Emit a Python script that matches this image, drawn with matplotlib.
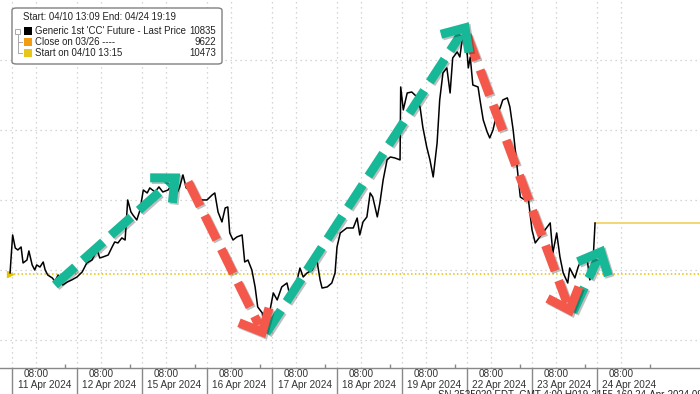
import numpy as np
import matplotlib.pyplot as plt
import matplotlib.patheffects as pe
from matplotlib.patches import FancyBboxPatch, Rectangle
from matplotlib.lines import Line2D
from matplotlib.transforms import blended_transform_factory

plt.rcParams["font.family"] = ["Liberation Sans", "DejaVu Sans"]

# trading-day axis: 0 = start of 11 Apr session, 1 = 12 Apr, ...
day_labels = ["11 Apr 2024", "12 Apr 2024", "15 Apr 2024", "16 Apr 2024", "17 Apr 2024",
              "18 Apr 2024", "19 Apr 2024", "22 Apr 2024", "23 Apr 2024", "24 Apr 2024"]
open_offset = 0.37  # where 08:00 falls inside a day slot

day_pos = [-0.03, 0.01, 0.05, 0.09, 0.14, 0.17, 0.23, 0.26, 0.31, 0.35, 0.38, 0.43, 0.48, 0.51,
           0.55, 0.62, 0.66, 0.71, 0.78, 0.85, 0.92, 1.00, 1.08, 1.15, 1.23, 1.31, 1.35, 1.40,
           1.48, 1.54, 1.58, 1.63, 1.69, 1.74, 1.78, 1.83, 1.86, 1.92, 1.97, 2.02, 2.08, 2.12,
           2.20, 2.26, 2.32, 2.40, 2.48, 2.54, 2.58, 2.63, 2.68, 2.74, 2.85, 2.94, 3.00, 3.08,
           3.12, 3.17, 3.23, 3.28, 3.32, 3.35, 3.40, 3.46, 3.54, 3.58, 3.63, 3.69, 3.74, 3.78,
           3.85, 3.89, 3.97, 4.02, 4.08, 4.15, 4.23, 4.28, 4.35, 4.43, 4.48, 4.54, 4.62, 4.69,
           4.74, 4.77, 4.85, 4.92, 4.97, 5.00, 5.05, 5.15, 5.25, 5.31, 5.35, 5.40, 5.46, 5.51,
           5.55, 5.62, 5.66, 5.71, 5.77, 5.82, 5.89, 5.97, 5.98, 6.02, 6.08, 6.15, 6.23, 6.28,
           6.32, 6.38, 6.43, 6.48, 6.54, 6.58, 6.63, 6.69, 6.74, 6.78, 6.85, 6.89, 6.94, 6.97,
           7.02, 7.05, 7.09, 7.17, 7.20, 7.25, 7.31, 7.35, 7.40, 7.46, 7.51, 7.55, 7.62, 7.66,
           7.71, 7.77, 7.82, 7.89, 7.94, 8.00, 8.05, 8.12, 8.20, 8.28, 8.32, 8.38, 8.43, 8.48,
           8.55, 8.58, 8.66, 8.71, 8.77, 8.85, 8.89, 8.94, 8.97]
price = [10479, 10750, 10657, 10643, 10664, 10550, 10571, 10636, 10536, 10500, 10536, 10521, 10557, 10500,
         10464, 10443, 10420, 10464, 10393, 10414, 10429, 10450, 10486, 10550, 10571, 10643, 10586, 10593,
         10607, 10664, 10700, 10693, 10729, 10714, 11000, 10914, 10893, 10857, 10929, 11071, 11050, 11086,
         11057, 11093, 11057, 11071, 11121, 11050, 11093, 11179, 11086, 11071, 11000, 11000, 11000, 11036,
         11050, 10914, 10843, 10943, 10950, 10764, 10714, 10736, 10750, 10557, 10571, 10500, 10379, 10236,
         10193, 10050, 10214, 10336, 10286, 10379, 10407, 10307, 10357, 10514, 10450, 10479, 10500, 10571,
         10429, 10371, 10379, 10407, 10479, 10664, 10764, 10800, 10800, 10871, 10750, 10843, 10879, 11050,
         11021, 10879, 10979, 11143, 11286, 11307, 11300, 11286, 11807, 11643, 11764, 11771, 11736, 11657,
         11521, 11379, 11286, 11164, 11407, 11714, 11907, 11943, 11764, 12014, 12057, 12021, 12193, 12236,
         11943, 12021, 11821, 11807, 11714, 11571, 11486, 11443, 11500, 11621, 11657, 11714, 11729, 11664,
         11500, 11236, 11021, 11000, 11021, 10786, 10693, 10736, 10786, 10836, 10621, 10764, 10593, 10479,
         10407, 10514, 10443, 10521, 10586, 10571, 10429, 10571, 10835]

last_price = 10835
start_price = 10473
close_price = 9622

# hand-drawn trend arrows (start, end) in (day, price)
up_moves = [((0.66, 10393), (2.51, 11157)),
            ((3.91, 10050), (6.97, 12229)),
            ((8.63, 10200), (9.06, 10629))]
down_moves = [((2.71, 11129), (3.85, 10057)),
              ((7.00, 12179), (8.58, 10214))]

W, H = 700, 394
TEAL = "#17b897"
RED = "#f4584a"
GRID = "#c8c8c8"

fig = plt.figure(figsize=(W / 100, H / 100), dpi=100)
ax = fig.add_axes([0, 26 / H, 1, 368 / H])
ax.set_xlim(-12 / 65, 688 / 65)
ax.set_ylim(9800, 12428)

for s in ["top", "left", "right"]:
    ax.spines[s].set_visible(False)
ax.spines["bottom"].set_color("#888888")
ax.spines["bottom"].set_linewidth(1.0)

# grid
for yv in [10000, 10500, 11000, 11500, 12000]:
    ax.axhline(yv, color=GRID, lw=0.9, ls=(0, (1, 3)), zorder=0)
for d in range(len(day_labels)):
    ax.axvline(d, color=GRID, lw=0.9, ls=(0, (1, 3)), zorder=0)
    ax.axvline(d + open_offset, color=GRID, lw=0.9, ls=(0, (1, 3)), zorder=0)

# x ticks: long separators between days, small ticks inside
ax.set_xticks(range(len(day_labels)))
ax.set_xticklabels([])
ax.tick_params(axis="x", which="major", length=19, width=1.0, color="#888888", direction="out")
ax.set_xticks([d + 0.815 for d in range(len(day_labels))], minor=True)
ax.tick_params(axis="x", which="minor", length=3, width=1.0, color="#888888", direction="in")
ax.set_yticks([])

tr = blended_transform_factory(ax.transData, fig.transFigure)
for d, lab in enumerate(day_labels):
    ax.text(d + open_offset, 1 - 374 / H, "08:00", transform=tr, ha="center", va="center",
            fontsize=7.2, color="#333333")
    ax.text(d + 0.5, 1 - 385 / H, lab, transform=tr, ha="center", va="center",
            fontsize=7.2, color="#333333")

# reference levels
ax.plot([day_pos[0], ax.get_xlim()[1]], [start_price, start_price], color="#e6c200",
        lw=1.1, ls=(0, (1, 1.5)), zorder=1)
ax.plot([day_pos[0]], [start_price], marker=">", color="#e6c200", ms=4, zorder=1)
ax.axhline(close_price, color="#f39c12", lw=1, ls="--")
ax.plot([day_pos[-1], ax.get_xlim()[1]], [last_price, last_price], color="#f2d46a", lw=1.3, zorder=1)

# price line
ax.plot(day_pos, price, color="black", lw=1.1, zorder=3)

shadow = [pe.SimpleLineShadow(offset=(1.2, -1.2), alpha=0.25, shadow_color="black"), pe.Normal()]


def draw_move(p0, p1, color):
    to_px = ax.transData
    a = to_px.transform(p0)
    b = to_px.transform(p1)
    v = (b - a) / np.hypot(*(b - a))
    end = b - v * 8
    x0, y0 = to_px.inverted().transform(a)
    xe, ye = to_px.inverted().transform(end)
    ax.plot([x0, xe], [y0, ye], color=color, lw=6.5, ls=(0, (3.0, 1.15)),
            dash_capstyle="butt", zorder=4, path_effects=shadow)
    # open chevron head
    ang = np.radians(42)
    arm = 25
    pts = []
    for s in (1, -1):
        c, sn = np.cos(s * ang), np.sin(s * ang)
        back = -v
        r = np.array([back[0] * c - back[1] * sn, back[0] * sn + back[1] * c])
        pts.append(b + r * arm)
    head = to_px.inverted().transform(np.array([pts[0], b, pts[1]]))
    ax.plot(head[:, 0], head[:, 1], color=color, lw=6.5, solid_joinstyle="miter",
            solid_capstyle="butt", zorder=5, path_effects=shadow)


for a, b in up_moves:
    draw_move(a, b, TEAL)
for a, b in down_moves:
    draw_move(a, b, RED)

# legend block
def fx(x):
    return x / W


def fy(y):
    return 1 - y / H


box = FancyBboxPatch((fx(12), fy(64)), fx(210), 56 / H, boxstyle="round,pad=0,rounding_size=0.006",
                     transform=fig.transFigure, facecolor="white", edgecolor="#808080", lw=1.0, zorder=10)
fig.add_artist(box)
fs = 6.9
fig.text(fx(23), fy(17), "Start: 04/10 13:09 End: 04/24 19:19", fontsize=fs, va="center",
         color="#222222", zorder=11)
rows = [("Generic 1st 'CC' Future - Last Price", "10835", "black"),
        ("Close on 03/26 ----", "9622", "#f39c12"),
        ("Start on 04/10 13:15", "10473", "#e8c619")]
for i, (lab, val, col) in enumerate(rows):
    yc = [31, 42, 53][i]
    fig.add_artist(Rectangle((fx(24), fy(yc + 4)), fx(8), 8 / H, transform=fig.transFigure,
                             facecolor=col, edgecolor="none", zorder=11))
    fig.text(fx(35), fy(yc), lab, fontsize=fs, va="center", color="#222222", zorder=11)
    fig.text(fx(216), fy(yc), val, fontsize=fs, va="center", ha="right", color="#222222", zorder=11)
# small tree marks at the left of the legend
for seg in [((18, 18), (34, 53)), ((18, 22), (42, 42)), ((18, 22), (53, 53))]:
    fig.add_artist(Line2D([fx(seg[0][0]), fx(seg[0][1])], [fy(seg[1][0]), fy(seg[1][1])],
                          transform=fig.transFigure, color="#aaaaaa", lw=0.7, zorder=11))
fig.add_artist(Rectangle((fx(15.5), fy(34)), fx(5), 5 / H, transform=fig.transFigure,
                         facecolor="white", edgecolor="#aaaaaa", lw=0.7, zorder=11))

fig.text(fx(438), fy(390), "SN 2525020 EDT  GMT-4:00 H019-2155-160 24-Apr-2024 09:07:28",
         fontsize=7, va="top", color="#222222")

fig.savefig("out.png", dpi=100)
